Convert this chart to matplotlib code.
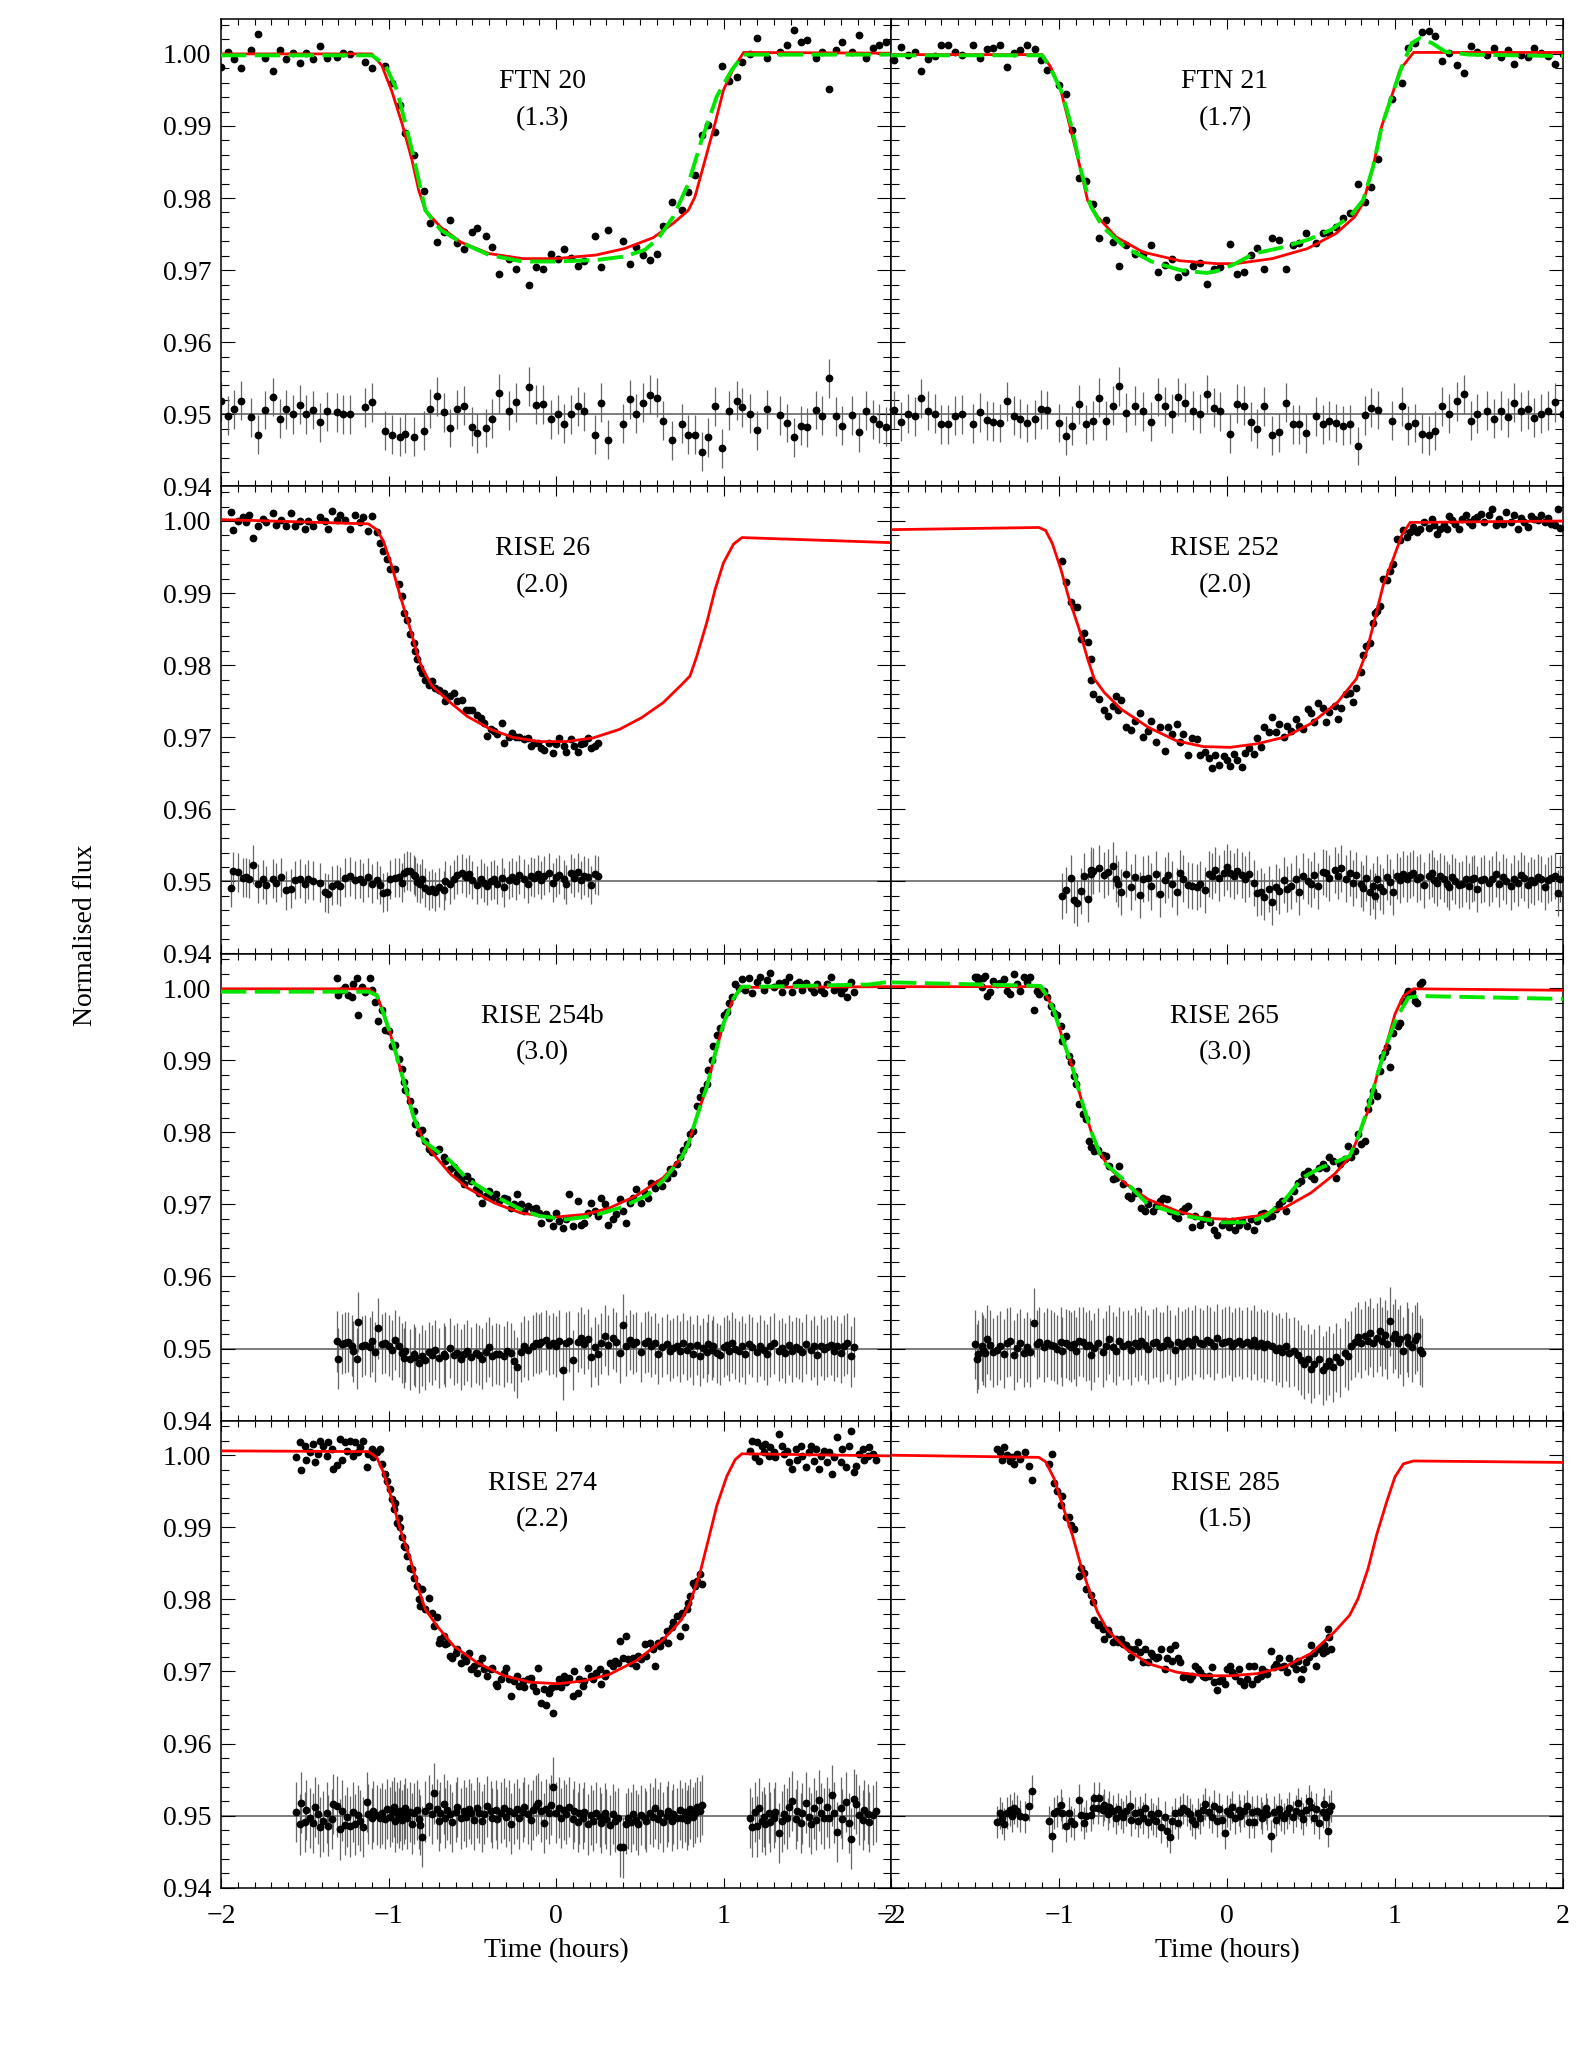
import numpy as np
import matplotlib.pyplot as plt
from matplotlib.ticker import MultipleLocator, NullFormatter

plt.rcParams['font.family'] = ['Liberation Serif', 'DejaVu Serif']

# Times in hours from mid-transit.  Fluxes and residuals are given in parts
# per thousand (ppt): flux = 1 + df/1000, residual = 0.95 + res/1000.

# ---------------- FTN 20 ----------------
ftn20_t = [-2.00, -1.96, -1.92, -1.88, -1.82, -1.78, -1.74, -1.69, -1.65, -1.61,
           -1.57, -1.53, -1.49, -1.45, -1.41, -1.37, -1.31, -1.27, -1.23, -1.14,
           -1.10, -1.02, -0.98, -0.93, -0.90, -0.85, -0.79, -0.75, -0.71, -0.67,
           -0.63, -0.59, -0.55, -0.50, -0.47, -0.42, -0.38, -0.34, -0.28, -0.24,
           -0.16, -0.12, -0.08, -0.03, 0.01, 0.05, 0.09, 0.13, 0.17, 0.23,
           0.27, 0.31, 0.40, 0.44, 0.48, 0.52, 0.56, 0.60, 0.64, 0.69,
           0.75, 0.79, 0.83, 0.87, 0.91, 0.95, 0.99, 1.03, 1.08, 1.11,
           1.16, 1.20, 1.26, 1.34, 1.38, 1.42, 1.46, 1.50, 1.55, 1.59,
           1.63, 1.67, 1.71, 1.77, 1.81, 1.85, 1.89, 1.93, 1.97, 2.01]
ftn20_df = [-1.8, 0.2, -0.7, -2.0, 0.5, 2.7, -0.6, -2.4, 0.6, -0.7,
            0.1, -1.3, 0.1, -0.7, 1.1, -0.5, -0.4, 0.1, 0.0, -1.1,
            -1.9, -1.7, -4.1, -7.1, -11.0, -14.0, -19.0, -23.4, -26.1, -24.7,
            -23.1, -26.2, -27.1, -24.7, -24.1, -25.2, -26.8, -30.6, -28.4, -29.8,
            -32.1, -29.6, -29.9, -27.8, -28.4, -27.1, -28.3, -29.4, -28.7, -25.3,
            -29.5, -24.4, -26.0, -29.1, -26.8, -27.9, -28.6, -27.7, -23.9, -20.6,
            -21.7, -19.1, -16.8, -11.3, -9.9, -10.8, -1.7, -3.8, -3.2, -1.1,
            0.0, 2.2, -0.6, 0.3, 1.3, 3.3, 1.7, 1.9, -0.6, 0.3,
            -4.9, 0.5, 1.6, 0.2, 2.6, -0.5, 0.8, 1.3, 1.7, -0.9]
ftn20_res = [1.8, -0.2, 0.7, 1.9, -0.4, -2.8, 0.6, 2.4, -0.6, 0.7,
             0.0, 1.3, 0.0, 0.6, -1.1, 0.4, 0.3, 0.0, 0.0, 1.0,
             1.7, -2.3, -2.8, -3.1, -2.7, -3.1, -2.3, 0.8, 2.5, 0.3,
             -1.9, 0.7, 1.2, -1.7, -2.6, -1.9, -0.6, 2.9, 0.5, 1.7,
             3.8, 1.3, 1.4, -0.7, 0.0, -1.3, 0.0, 1.1, 0.4, -2.8,
             1.6, -3.5, -1.3, 2.1, 0.1, 1.6, 2.7, 2.3, -0.9, -3.6,
             -1.3, -2.8, -2.8, -5.2, -3.2, 1.1, -4.7, 0.5, 1.9, 1.0,
             0.1, -2.2, 0.7, -0.1, -1.2, -3.2, -1.6, -1.8, 0.6, -0.2,
             5.0, -0.3, -1.6, -0.1, -2.5, 0.5, -0.7, -1.3, -1.7, 0.7]
ftn20_fit_t = [-2.0, -1.10, -1.04, -0.98, -0.92, -0.86, -0.82, -0.78, -0.69, -0.57, -0.40, -0.20, 0.0,
               0.24, 0.41, 0.58, 0.70, 0.79, 0.83, 0.89, 0.95, 1.00, 1.06, 1.12, 2.0]
ftn20_fit = [0.0, 0.0, -1.6, -5.2, -9.6, -14.7, -18.9, -21.7, -24.0, -26.1, -27.7, -28.4, -28.4,
             -27.9, -27.0, -25.5, -23.5, -21.7, -19.8, -14.7, -9.6, -5.0, -2.0, 0.2, 0.1]
ftn20_alt_t = [-2.0, -1.10, -1.02, -0.95, -0.90, -0.85, -0.78, -0.69, -0.57, -0.40, -0.20, 0.0,
               0.24, 0.41, 0.53, 0.61, 0.70, 0.79, 0.87, 0.96, 1.05, 1.12, 2.0]
ftn20_alt = [-0.2, -0.2, -1.5, -5.0, -9.6, -14.3, -21.7, -24.4, -26.1, -27.9, -28.8, -28.8,
             -28.6, -28.1, -27.2, -25.6, -22.6, -18.0, -11.9, -5.9, -2.2, -0.1, -0.1]

# ---------------- FTN 21 ----------------
ftn21_t = [-1.98, -1.94, -1.90, -1.86, -1.82, -1.78, -1.74, -1.70, -1.66, -1.62,
           -1.58, -1.51, -1.47, -1.43, -1.39, -1.35, -1.31, -1.27, -1.23, -1.19,
           -1.14, -1.11, -1.07, -1.00, -0.96, -0.92, -0.88, -0.84, -0.80, -0.76,
           -0.72, -0.68, -0.64, -0.60, -0.55, -0.50, -0.45, -0.41, -0.37, -0.33,
           -0.29, -0.25, -0.20, -0.16, -0.12, -0.08, -0.04, 0.02, 0.06, 0.10,
           0.14, 0.18, 0.22, 0.27, 0.31, 0.35, 0.39, 0.43, 0.47, 0.53,
           0.57, 0.61, 0.65, 0.69, 0.73, 0.78, 0.82, 0.86, 0.90, 0.98,
           1.04, 1.08, 1.12, 1.16, 1.20, 1.24, 1.28, 1.32, 1.37, 1.41,
           1.45, 1.49, 1.55, 1.59, 1.63, 1.67, 1.71, 1.75, 1.79, 1.83,
           1.87, 1.91, 1.95, 2.00]
ftn21_df = [-0.8, 0.9, -0.2, 0.2, -2.4, -0.7, -0.3, 1.3, 1.3, 0.2,
            -0.1, 1.2, -0.5, 0.7, 0.8, 1.2, -1.8, 0.1, 0.5, 1.2,
            0.7, -0.9, -2.3, -4.3, -5.6, -10.6, -17.2, -17.6, -20.8, -25.5,
            -23.1, -26.1, -29.4, -26.5, -27.8, -27.7, -26.5, -30.3, -29.3, -28.5,
            -30.9, -30.3, -29.4, -29.0, -31.9, -29.9, -29.5, -26.4, -30.6, -30.2,
            -27.9, -26.9, -29.8, -25.6, -25.8, -29.8, -26.5, -26.3, -24.8, -26.3,
            -24.8, -24.8, -24.0, -22.8, -22.1, -18.1, -20.5, -18.4, -14.6, -6.3,
            -4.0, 0.8, 1.5, 3.0, 3.2, 2.5, -1.0, 0.1, -1.6, -2.7,
            1.1, 0.2, -0.2, 0.8, -0.4, 0.6, -1.4, -0.1, -0.4, 0.8,
            0.1, -0.3, -1.4, 0.0]
ftn21_res = [0.6, -1.0, 0.1, -0.3, 2.2, 0.5, 0.1, -1.4, -1.4, -0.2,
             0.0, -1.3, 0.3, -0.8, -1.0, -1.2, 1.8, -0.2, -0.6, -1.2,
             -0.7, 0.7, 0.6, -1.2, -3.0, -1.6, 1.4, -1.4, -0.9, 2.3,
             -0.9, 1.2, 3.9, 0.2, 1.2, 0.4, -1.0, 2.4, 1.1, 0.1,
             2.4, 1.6, 0.5, 0.1, 2.8, 0.9, 0.4, -2.7, 1.5, 1.2,
             -1.0, -2.0, 1.1, -2.9, -2.5, 1.6, -1.4, -1.4, -2.6, -0.3,
             -1.4, -0.9, -1.2, -1.6, -1.4, -4.4, -0.1, 0.9, 0.6, -0.9,
             1.1, -1.6, -1.2, -2.7, -2.9, -2.3, 1.1, 0.1, 1.8, 2.8,
             -0.9, 0.1, 0.5, -0.6, 0.5, -0.4, 1.6, 0.4, 0.7, -0.5,
             0.1, 0.5, 1.7, 0.0]
ftn21_fit_t = [-2.0, -1.10, -1.05, -0.99, -0.94, -0.88, -0.83, -0.77, -0.66, -0.50, -0.28, -0.06,
               0.05, 0.27, 0.48, 0.65, 0.76, 0.81, 0.87, 0.92, 0.98, 1.03, 1.11, 2.0]
ftn21_fit = [-0.1, -0.1, -1.8, -5.0, -9.6, -15.2, -20.3, -22.6, -25.4, -27.5, -28.7, -29.1,
             -29.1, -28.4, -27.0, -24.9, -22.6, -20.7, -15.6, -10.1, -5.9, -2.2, 0.2, 0.2]
ftn21_alt_t = [-2.0, -1.10, -1.05, -0.98, -0.92, -0.87, -0.81, -0.74, -0.61, -0.45, -0.28, -0.12,
               -0.04, 0.05, 0.16, 0.32, 0.48, 0.62, 0.73, 0.81, 0.87, 0.92, 0.98, 1.04, 1.10,
               1.15, 1.22, 1.30, 1.44, 2.0]
ftn21_alt = [-0.2, -0.2, -2.0, -5.5, -10.6, -16.1, -21.2, -24.0, -26.8, -28.8, -30.0, -30.4,
             -30.0, -29.1, -27.7, -26.9, -25.8, -24.4, -22.6, -20.3, -15.6, -10.1, -5.9, -1.8, 1.5,
             2.2, 1.5, 0.3, -0.1, -0.3]

# ---------------- RISE 26 ----------------
rise26_t = [-1.94, -1.93, -1.90, -1.87, -1.85, -1.83, -1.81, -1.78, -1.75, -1.73,
            -1.69, -1.67, -1.64, -1.61, -1.58, -1.56, -1.53, -1.50, -1.48, -1.45,
            -1.41, -1.38, -1.36, -1.34, -1.31, -1.29, -1.26, -1.23, -1.20, -1.17,
            -1.15, -1.12, -1.10, -1.07, -1.05, -1.03, -1.01, -0.99, -0.96, -0.94,
            -0.92, -0.91, -0.89, -0.87, -0.85, -0.84, -0.83, -0.81, -0.80, -0.78,
            -0.76, -0.74, -0.72, -0.70, -0.67, -0.66, -0.63, -0.61, -0.59, -0.56,
            -0.54, -0.52, -0.50, -0.47, -0.45, -0.43, -0.41, -0.39, -0.37, -0.35,
            -0.32, -0.31, -0.28, -0.26, -0.24, -0.22, -0.19, -0.17, -0.15, -0.13,
            -0.11, -0.09, -0.07, -0.04, -0.02, 0.00, 0.02, 0.05, 0.06, 0.09,
            0.11, 0.13, 0.15, 0.17, 0.19, 0.21, 0.23, 0.25]
rise26_df = [1.2, -1.2, 0.0, 0.6, -0.2, 0.8, -2.3, -0.7, 0.3, -0.2,
             1.1, -0.5, 0.1, -0.7, 1.1, -0.7, 0.0, -1.1, 0.0, -0.7,
             0.5, 0.0, -1.1, 1.4, 0.2, 0.8, 0.1, -1.1, 0.9, -0.2,
             0.6, -1.4, 0.7, -1.5, -3.0, -4.2, -5.3, -6.7, -6.7, -8.8,
             -10.4, -12.7, -13.7, -15.7, -16.9, -18.1, -19.2, -20.4, -21.1, -22.0,
             -22.7, -22.2, -23.1, -23.5, -23.8, -25.0, -24.3, -23.8, -25.0, -24.8,
             -26.2, -26.2, -26.2, -26.9, -27.3, -28.0, -29.8, -28.8, -29.2, -29.6,
             -28.0, -30.8, -29.9, -29.4, -29.9, -29.9, -30.3, -30.1, -31.2, -30.8,
             -30.8, -31.5, -31.8, -30.8, -32.2, -31.0, -30.1, -31.2, -32.1, -30.3,
             -31.2, -32.1, -31.0, -30.8, -30.1, -31.5, -31.2, -30.8]
rise26_res = [-0.9, 1.4, 1.3, 0.5, 0.6, 0.4, 2.3, -0.3, 0.3, -0.5,
              0.4, -0.2, 0.6, -1.2, -1.0, 0.2, 0.4, -0.3, 0.3, 0.1,
              -0.2, -1.5, -1.7, -0.6, -0.4, -0.7, 0.5, 0.7, 0.2, 0.4,
              -0.1, 0.6, -0.3, 0.2, -0.5, -1.6, -1.4, 0.3, 0.5, 0.6,
              -0.2, 1.2, 1.5, 1.4, 0.9, 0.7, -0.1, -0.3, 0.4, -0.9,
              -1.3, -1.0, -1.4, -0.8, -1.2, 0.1, -0.4, 0.3, 0.9, 1.1,
              0.6, 1.0, 0.2, -0.5, 0.4, -0.2, -0.6, 0.1, 0.3, -0.4,
              0.5, -0.8, 0.2, 0.6, 0.1, 0.9, 0.4, -0.3, 0.7, 0.5,
              1.0, 0.2, 0.8, 1.2, -0.2, 0.6, 0.9, 0.3, -0.4, 1.1,
              0.5, 1.3, 0.2, 0.8, 0.6, -0.5, 1.0, 0.8]
rise26_fit_t = [-2.0, -1.12, -1.07, -1.03, -0.98, -0.93, -0.87, -0.82, -0.79, -0.74, -0.63, -0.53,
                -0.39, -0.26, -0.10, 0.06, 0.22, 0.38, 0.51, 0.64, 0.75, 0.80, 0.84, 0.90, 0.95,
                1.00, 1.06, 1.11, 2.0]
rise26_fit = [0.2, -0.4, -1.2, -2.8, -6.3, -10.4, -15.0, -19.2, -20.8, -22.9, -25.2, -27.1,
              -28.9, -30.0, -30.6, -30.6, -30.1, -28.9, -27.3, -25.2, -22.7, -21.5, -18.8, -14.1, -9.5,
              -5.8, -3.2, -2.3, -3.0]

# ---------------- RISE 252 ----------------
rise252_t = [-0.98, -0.96, -0.93, -0.91, -0.89, -0.87, -0.85, -0.83, -0.81, -0.81,
             -0.80, -0.76, -0.73, -0.71, -0.68, -0.66, -0.65, -0.63, -0.60, -0.57,
             -0.55, -0.52, -0.50, -0.47, -0.45, -0.42, -0.40, -0.37, -0.35, -0.33,
             -0.30, -0.28, -0.26, -0.23, -0.21, -0.18, -0.16, -0.13, -0.11, -0.09,
             -0.07, -0.05, -0.02, 0.00, 0.02, 0.04, 0.06, 0.09, 0.11, 0.13,
             0.16, 0.18, 0.20, 0.22, 0.25, 0.27, 0.29, 0.31, 0.34, 0.36,
             0.38, 0.41, 0.43, 0.45, 0.48, 0.50, 0.52, 0.54, 0.57, 0.59,
             0.61, 0.64, 0.66, 0.68, 0.71, 0.73, 0.75, 0.77, 0.80, 0.81,
             0.83, 0.85, 0.87, 0.88, 0.89, 0.91, 0.93, 0.95, 0.97, 0.99,
             1.01, 1.03, 1.05, 1.07, 1.09, 1.11, 1.13, 1.15, 1.17, 1.20,
             1.22, 1.23, 1.25, 1.27, 1.29, 1.31, 1.32, 1.34, 1.36, 1.38,
             1.40, 1.42, 1.44, 1.46, 1.47, 1.49, 1.51, 1.53, 1.56, 1.58,
             1.60, 1.62, 1.64, 1.66, 1.69, 1.71, 1.73, 1.75, 1.77, 1.79,
             1.81, 1.83, 1.85, 1.87, 1.89, 1.91, 1.93, 1.95, 1.97, 1.98]
rise252_df = [-5.6, -8.5, -11.2, -12.0, -12.0, -16.4, -15.5, -16.8, -19.1, -22.1,
              -24.0, -24.7, -26.2, -27.1, -25.7, -24.3, -26.2, -24.9, -28.6, -29.0,
              -27.7, -26.7, -29.9, -29.1, -27.7, -30.7, -28.6, -31.9, -28.6, -29.6,
              -28.1, -30.7, -29.6, -32.4, -30.1, -30.3, -32.4, -32.0, -32.9, -34.2,
              -32.4, -33.9, -32.6, -33.1, -34.0, -32.3, -33.1, -34.1, -32.2, -31.5,
              -32.3, -30.1, -31.3, -28.6, -29.3, -27.2, -29.3, -28.1, -30.0, -28.4,
              -29.1, -27.5, -28.4, -28.8, -26.1, -26.6, -27.9, -25.2, -26.0, -27.9,
              -26.5, -25.6, -27.5, -25.9, -24.0, -23.8, -25.1, -23.1, -20.9, -18.6,
              -17.4, -16.9, -14.1, -12.7, -12.5, -11.8, -8.0, -8.2, -6.9, -5.9,
              -2.5, -2.7, -1.3, -2.2, -1.5, -0.8, -1.5, -1.1, -0.1, -1.0,
              0.3, -0.6, -1.8, -1.1, -0.6, -1.1, 0.7, 0.1, -0.4, -1.1,
              0.3, 0.8, -0.1, -0.6, 0.3, 0.6, 1.0, -0.1, 0.8, 1.7,
              -0.6, 0.3, -0.4, 1.2, -0.1, 0.8, -1.1, 0.4, -0.1, -0.8,
              0.7, 0.3, 0.1, 0.8, -0.1, 0.4, -0.4, -0.6, 1.7, -1.0]
rise252_res = [-2.0, -1.2, 0.5, -2.6, -3.0, -1.3, 0.8, -2.4, 1.0, 1.6,
               1.5, 1.8, 0.9, 1.3, 2.2, 0.4, -0.3, -1.5, 1.0, -0.8,
               0.6, -1.9, 0.3, 0.5, -0.7, 1.0, -1.8, 0.2, 0.9, -0.4,
               -1.4, 1.2, 0.4, -0.5, -0.6, -0.8, -0.3, -1.2, 1.0, 0.8,
               1.6, 0.5, 1.2, 2.0, 1.1, 0.7, 1.5, 0.9, 0.3, 1.0,
               -0.2, -1.6, -1.4, -2.1, -1.0, -2.9, -0.8, -1.3, 0.2, -1.1,
               -0.6, 0.4, -1.4, 0.8, 0.1, -0.3, 0.9, -0.6, 1.3, 1.1,
               0.5, 1.6, 0.7, 1.8, 0.4, 1.2, -0.2, 0.9, -0.4, -0.9,
               0.5, -1.5, -0.6, -2.0, 0.3, -0.8, -1.3, 0.6, -0.1, -1.5,
               0.8, 0.2, 1.0, 0.4, 0.9, 1.2, 0.3, 0.6, -0.5, 0.7,
               1.1, 0.2, -0.2, 0.8, 0.4, -0.4, -0.8, 0.6, 0.1, -0.5,
               -0.3, 0.4, -0.6, 0.3, 0.5, -1.0, 0.2, 0.4, -0.2, 0.3,
               1.0, -0.4, 0.6, 0.1, -0.7, 0.4, -0.2, 0.9, 0.5, -0.5,
               0.2, -0.1, 0.6, 0.3, -0.8, 0.2, 0.5, 0.8, -1.6, 0.4]
rise252_fit_t = [-2.0, -1.12, -1.08, -1.04, -0.99, -0.94, -0.88, -0.83, -0.79, -0.73, -0.63, -0.47,
                 -0.30, -0.14, 0.02, 0.18, 0.34, 0.50, 0.66, 0.77, 0.83, 0.88, 0.93, 0.99, 1.04,
                 1.09, 2.0]
rise252_fit = [-1.2, -0.9, -1.3, -3.1, -6.6, -10.8, -15.0, -19.1, -21.9, -23.8, -26.1, -28.6,
               -30.5, -31.3, -31.4, -30.9, -30.0, -28.1, -25.1, -21.9, -18.2, -13.6, -8.9, -5.2, -2.0,
               -0.2, 0.0]

# ---------------- RISE 254b ----------------
rise254_t = [-1.31, -1.30, -1.28, -1.26, -1.24, -1.22, -1.21, -1.19, -1.18, -1.16,
             -1.14, -1.11, -1.10, -1.08, -1.06, -1.04, -1.02, -1.00, -0.98, -0.96,
             -0.94, -0.92, -0.91, -0.90, -0.87, -0.85, -0.84, -0.82, -0.80, -0.78,
             -0.76, -0.74, -0.72, -0.70, -0.67, -0.66, -0.63, -0.61, -0.59, -0.57,
             -0.55, -0.53, -0.51, -0.48, -0.46, -0.44, -0.42, -0.40, -0.38, -0.36,
             -0.34, -0.31, -0.29, -0.27, -0.25, -0.23, -0.21, -0.19, -0.17, -0.14,
             -0.12, -0.10, -0.09, -0.06, -0.04, -0.02, 0.00, 0.02, 0.04, 0.06,
             0.08, 0.10, 0.13, 0.15, 0.17, 0.19, 0.21, 0.23, 0.25, 0.27,
             0.29, 0.31, 0.34, 0.36, 0.38, 0.40, 0.42, 0.44, 0.46, 0.48,
             0.51, 0.53, 0.55, 0.57, 0.59, 0.61, 0.63, 0.66, 0.68, 0.70,
             0.72, 0.74, 0.76, 0.78, 0.80, 0.82, 0.84, 0.86, 0.88, 0.90,
             0.91, 0.93, 0.94, 0.96, 0.98, 1.00, 1.02, 1.03, 1.05, 1.07,
             1.09, 1.11, 1.13, 1.15, 1.17, 1.20, 1.22, 1.24, 1.26, 1.28,
             1.30, 1.33, 1.35, 1.37, 1.39, 1.41, 1.43, 1.45, 1.47, 1.49,
             1.52, 1.54, 1.56, 1.58, 1.60, 1.62, 1.64, 1.66, 1.68, 1.70,
             1.72, 1.74, 1.76, 1.78]
rise254_df = [1.4, -0.9, -0.2, 0.2, -0.9, -1.2, 0.5, 1.4, -3.7, 0.2,
              -0.5, 1.4, -0.2, -1.9, -4.5, -3.0, -5.8, -6.0, -8.1, -7.9,
              -9.8, -11.2, -13.0, -14.2, -15.6, -17.0, -18.8, -20.1, -19.7, -21.2,
              -22.3, -22.8, -22.6, -22.3, -23.5, -24.0, -25.1, -24.8, -25.8, -26.5,
              -27.2, -26.0, -26.7, -27.9, -28.4, -29.8, -28.8, -28.1, -29.1, -28.6,
              -29.5, -29.1, -29.3, -30.5, -29.9, -28.6, -30.0, -30.9, -30.2, -30.7,
              -30.5, -31.2, -32.6, -31.4, -31.9, -33.0, -31.2, -32.3, -33.3, -32.1,
              -28.6, -33.0, -29.5, -32.8, -32.6, -31.2, -29.8, -30.9, -31.6, -29.1,
              -30.0, -32.8, -32.1, -31.4, -29.3, -30.9, -32.6, -29.8, -29.1, -27.9,
              -29.8, -28.4, -29.1, -27.1, -27.7, -27.0, -27.4, -26.3, -25.1, -25.6,
              -24.4, -23.5, -22.5, -21.6, -20.2, -19.8, -16.3, -15.1, -14.2, -13.3,
              -11.4, -10.0, -8.1, -6.5, -5.6, -3.7, -3.3, -2.1, -1.2, 0.5,
              0.0, 1.2, -0.2, 1.4, -0.7, 0.8, 1.6, -0.2, 1.1, 2.1,
              0.2, 0.7, -0.5, 0.9, 1.6, -0.5, 0.5, 0.9, -0.2, 0.7,
              0.0, -0.5, 0.5, -0.2, -0.7, 0.5, 1.5, -0.2, 0.1, -0.7,
              0.0, -1.2, 0.8, -0.5]
rise254_res = [1.0, -1.4, 0.6, 0.8, 0.9, 0.4, -0.4, -1.4, 3.7, 0.3,
               0.5, 0.2, 1.0, -0.5, 2.8, 0.6, 0.8, 0.4, -0.2, 1.2,
               0.3, -0.6, -1.3, -0.4, -1.5, -0.8, -1.2, -2.0, -1.0, -1.6,
               -0.5, -0.9, -0.2, -1.3, -0.7, -1.1, 0.1, -0.9, -0.6, -1.5,
               -0.8, -0.3, -1.2, -0.6, -0.9, -1.4, -0.5, 0.2, -1.0, -0.7,
               -0.8, -1.1, -0.4, -0.6, -1.7, -2.6, -0.5, 0.3, -0.2, 0.4,
               0.8, 0.6, 0.9, 1.2, 0.5, 0.7, 0.3, 1.1, -3.0, 0.8,
               1.0, -1.6, 0.9, 1.5, 0.6, 1.3, -1.2, 0.2, -0.8, 0.7,
               1.8, 0.5, 1.4, 0.9, -0.6, 3.3, 0.4, 1.2, 0.6, 0.9,
               -0.5, 0.8, 1.0, 0.3, 0.7, -0.7, 0.2, 0.6, -0.3, 0.1,
               0.4, -0.4, 0.7, -0.2, 0.3, -0.8, 0.5, -1.0, 0.1, -0.5,
               0.6, -0.2, 0.3, -0.6, -0.9, 0.2, 0.5, -0.3, 0.8, 0.0,
               -0.4, 0.3, -0.7, 0.6, 0.2, -0.5, 0.4, -0.2, -0.8, 0.3,
               0.7, -0.3, 0.1, -0.6, 0.5, -0.4, 0.2, 0.0, -0.5, 0.6,
               -0.2, 0.3, -0.9, 0.4, -0.1, 0.2, 0.5, -0.3, 0.3, -0.6,
               0.4, 0.7, -1.1, 0.2]
rise254_fit_t = [-2.0, -1.12, -1.07, -1.03, -0.99, -0.95, -0.90, -0.85, -0.79, -0.74, -0.63, -0.53,
                 -0.37, -0.21, -0.02, 0.17, 0.32, 0.48, 0.64, 0.75, 0.79, 0.84, 0.90, 0.95, 1.00,
                 1.06, 1.11, 2.0]
rise254_fit = [-0.1, -0.1, -0.9, -3.5, -6.3, -9.5, -13.7, -17.9, -21.2, -22.8, -25.8, -27.7,
               -29.8, -31.2, -31.8, -31.4, -30.5, -28.8, -26.3, -23.5, -21.6, -17.9, -13.7, -9.1, -4.9,
               -1.4, 0.1, 0.2]
rise254_alt_t = [-2.0, -1.12, -1.07, -1.03, -0.99, -0.95, -0.90, -0.85, -0.79, -0.74, -0.63, -0.53,
                 -0.37, -0.21, -0.10, 0.06, 0.22, 0.38, 0.54, 0.64, 0.75, 0.79, 0.84, 0.90, 0.95,
                 1.00, 1.06, 1.11, 1.23, 1.87, 2.0]
rise254_alt = [-0.5, -0.5, -1.0, -3.5, -6.3, -9.5, -13.7, -17.9, -21.2, -22.1, -24.0, -26.5,
               -28.8, -30.7, -31.6, -32.1, -31.6, -30.5, -28.8, -26.7, -23.5, -21.6, -17.9, -13.7, -9.1,
               -4.9, -1.4, 0.2, 0.2, 0.5, 0.9]

# ---------------- RISE 265 ----------------
rise265_t = [-1.50, -1.49, -1.48, -1.46, -1.45, -1.44, -1.43, -1.41, -1.39, -1.37,
             -1.35, -1.33, -1.31, -1.29, -1.27, -1.25, -1.23, -1.21, -1.19, -1.17,
             -1.15, -1.13, -1.12, -1.09, -1.07, -1.05, -1.03, -1.01, -0.99, -0.98,
             -0.96, -0.94, -0.93, -0.91, -0.90, -0.88, -0.86, -0.84, -0.82, -0.81,
             -0.79, -0.77, -0.74, -0.72, -0.70, -0.68, -0.66, -0.64, -0.62, -0.59,
             -0.57, -0.55, -0.53, -0.51, -0.49, -0.47, -0.44, -0.42, -0.40, -0.38,
             -0.36, -0.34, -0.31, -0.29, -0.27, -0.25, -0.23, -0.21, -0.19, -0.16,
             -0.14, -0.12, -0.10, -0.08, -0.06, -0.03, -0.01, 0.01, 0.03, 0.05,
             0.07, 0.09, 0.12, 0.14, 0.16, 0.18, 0.20, 0.22, 0.24, 0.27,
             0.29, 0.31, 0.33, 0.35, 0.37, 0.40, 0.42, 0.44, 0.46, 0.48,
             0.50, 0.52, 0.55, 0.57, 0.59, 0.61, 0.63, 0.65, 0.67, 0.70,
             0.72, 0.74, 0.76, 0.78, 0.80, 0.82, 0.84, 0.85, 0.87, 0.89,
             0.91, 0.92, 0.94, 0.95, 0.97, 0.99, 1.00, 1.02, 1.03, 1.05,
             1.07, 1.08, 1.10, 1.12, 1.13, 1.15, 1.16]
rise265_df = [1.6, 1.5, 1.1, 0.2, 1.4, 1.7, -1.1, -0.6, 1.0, 0.6,
              0.7, 1.3, -0.4, -0.8, 1.9, 0.6, -0.4, 1.5, 0.8, 1.5,
              -3.1, -0.4, -0.8, -0.4, -1.3, -2.5, -3.4, -3.7, -5.2, -7.3,
              -6.6, -9.4, -10.3, -12.2, -13.3, -16.1, -17.5, -18.2, -21.2, -22.1,
              -22.6, -22.4, -23.1, -23.3, -24.7, -26.5, -26.3, -24.7, -27.2, -28.8,
              -29.1, -28.4, -28.2, -30.5, -30.9, -30.0, -30.9, -30.2, -29.5, -29.1,
              -29.3, -30.9, -31.6, -31.9, -30.9, -30.5, -30.2, -33.1, -31.6, -32.8,
              -32.1, -31.4, -32.5, -33.5, -34.2, -32.8, -32.3, -33.2, -32.3, -33.5,
              -32.8, -32.3, -33.0, -32.1, -33.5, -32.3, -31.4, -31.2, -31.9, -31.6,
              -30.7, -30.0, -29.5, -30.9, -29.1, -28.2, -27.0, -26.8, -25.8, -25.4,
              -26.1, -26.5, -24.9, -24.4, -24.9, -23.5, -24.0, -26.3, -24.4, -23.7,
              -21.9, -23.5, -22.6, -20.3, -21.6, -21.2, -16.8, -15.6, -14.3, -14.9,
              -11.5, -9.6, -8.9, -8.2, -11.0, -6.2, -5.0, -5.2, -4.8, -1.8,
              -0.8, -0.4, -0.6, -1.8, -2.0, 0.6, 0.8]
rise265_res = [0.6, -1.4, -0.8, 0.3, -0.2, -0.6, 1.3, 0.5, -0.5, -0.2,
               0.4, -0.7, 0.8, 1.0, -0.9, 0.1, 0.7, -0.6, 0.2, -0.5,
               3.6, 0.6, 0.9, 0.2, 0.8, 0.5, 0.3, -0.1, 0.9, -0.4,
               0.7, 0.5, 0.2, 0.6, -0.4, 1.0, 0.9, 0.3, 0.5, -0.9,
               0.1, 0.8, -0.5, 0.4, 1.3, 0.2, -0.3, 1.0, 0.4, 0.6,
               -0.2, 0.8, 0.3, 1.1, 0.5, -0.1, 0.7, 0.9, 0.2, 0.3,
               1.2, 0.6, -0.2, 0.9, 0.4, 0.7, 1.0, 0.5, 1.3, 0.8,
               0.6, 1.2, 0.9, 0.4, 1.4, 0.7, 0.9, 1.1, 0.3, 0.8,
               1.0, 0.6, 0.9, 0.5, 1.2, 0.4, 0.7, 0.2, 0.6, 0.3,
               -0.2, 0.1, -0.5, 0.3, -0.6, -0.4, -0.9, -1.6, -2.2, -1.4,
               -2.8, -2.1, -1.5, -3.0, -2.4, -1.7, -2.6, -1.2, -1.9, -0.6,
               -1.0, 0.4, 0.9, 1.6, 0.7, 1.8, 1.1, 2.2, 0.8, 1.5,
               2.4, 1.0, 1.9, 0.6, 3.8, 1.4, 2.0, 0.7, 1.3, -0.4,
               1.6, 0.8, 0.2, 1.2, 1.7, -0.2, -0.6]
rise265_fit_t = [-2.0, -1.12, -1.08, -1.03, -0.98, -0.92, -0.87, -0.81, -0.77, -0.71, -0.60, -0.47,
                 -0.30, -0.14, 0.02, 0.18, 0.34, 0.50, 0.64, 0.73, 0.78, 0.84, 0.89, 0.95, 1.00,
                 1.05, 1.11, 2.0]
rise265_fit = [0.2, 0.2, -0.8, -3.1, -6.9, -11.0, -15.2, -19.8, -22.1, -24.7, -27.2, -29.3,
               -30.9, -31.9, -32.1, -31.6, -30.5, -28.4, -25.8, -23.5, -20.7, -17.0, -12.4, -7.8, -3.6,
               -1.1, -0.1, -0.3]
rise265_alt_t = [-2.0, -1.11, -1.08, -1.03, -0.98, -0.92, -0.87, -0.81, -0.74, -0.63, -0.47, -0.25,
                 -0.03, 0.13, 0.23, 0.34, 0.45, 0.56, 0.66, 0.73, 0.78, 0.84, 0.89, 0.95, 1.01,
                 1.08, 1.15, 2.0]
rise265_alt = [0.8, 0.3, -0.8, -3.1, -6.9, -11.0, -15.2, -19.8, -24.0, -26.3, -30.0, -31.6,
               -32.5, -32.5, -31.6, -29.5, -26.3, -24.9, -24.0, -23.3, -20.7, -16.6, -12.4, -7.8, -4.1,
               -1.3, -1.1, -1.5]

# ---------------- RISE 274 ----------------
rise274_t = [-1.55, -1.53, -1.52, -1.50, -1.49, -1.47, -1.45, -1.44, -1.42, -1.41,
             -1.39, -1.37, -1.36, -1.34, -1.33, -1.31, -1.29, -1.28, -1.26, -1.25,
             -1.23, -1.21, -1.20, -1.18, -1.17, -1.15, -1.13, -1.12, -1.10, -1.09,
             -1.07, -1.05,
             -1.04, -1.02, -1.01, -0.99, -0.98, -0.97, -0.96, -0.95, -0.94, -0.93,
             -0.92, -0.91, -0.90, -0.89, -0.87, -0.86, -0.85, -0.83, -0.82, -0.81,
             -0.80, -0.78, -0.76, -0.74, -0.73, -0.71, -0.70, -0.69, -0.67, -0.66,
             -0.65, -0.63, -0.62, -0.60, -0.59, -0.57, -0.55, -0.54, -0.52, -0.51,
             -0.49, -0.47, -0.46, -0.44, -0.43, -0.41, -0.39, -0.38, -0.36, -0.35,
             -0.33, -0.31, -0.30, -0.28, -0.27, -0.25, -0.23, -0.22, -0.20, -0.19,
             -0.17, -0.15, -0.14, -0.12, -0.11, -0.09, -0.07, -0.06, -0.04, -0.03,
             -0.02, 0.00, 0.02, 0.03, 0.05, 0.06, 0.08, 0.10, 0.11, 0.13,
             0.14, 0.16, 0.17, 0.19, 0.21, 0.22, 0.24, 0.26, 0.27, 0.29,
             0.30, 0.32, 0.34, 0.35, 0.37, 0.38, 0.40, 0.42, 0.43, 0.45,
             0.46, 0.48, 0.49, 0.51, 0.53, 0.54, 0.56, 0.58, 0.59, 0.61,
             0.62, 0.64, 0.66, 0.67, 0.69, 0.70, 0.72, 0.74, 0.75, 0.77,
             0.78, 0.79, 0.80, 0.82, 0.83, 0.84, 0.86, 0.87,
             1.16, 1.17, 1.19, 1.20, 1.21, 1.23, 1.24, 1.25, 1.27, 1.28,
             1.30, 1.31, 1.33, 1.35, 1.36, 1.38, 1.39, 1.41, 1.43, 1.44,
             1.46, 1.47, 1.49, 1.51, 1.52, 1.54, 1.55, 1.57, 1.58, 1.60,
             1.62, 1.63, 1.65, 1.66, 1.68, 1.70, 1.71, 1.73, 1.75, 1.76,
             1.78, 1.79, 1.81, 1.83, 1.84, 1.86, 1.87, 1.89, 1.91]
rise274_df = [-0.3, 1.8, -2.0, 1.3, -0.6, 0.5, 1.5, -1.0, 0.1, 2.0,
              1.3, -0.1, 1.8, 0.8, -1.9, -1.3, 2.2, -0.6, 1.8, 0.6,
              2.0, -0.1, 1.8, 0.4, 1.1, 2.0, -1.6, 0.1, 0.8, -0.3,
              0.4, 0.8,
              -1.2, -2.6, -3.6, -4.7, -6.1, -7.5, -6.6, -9.4, -8.7, -10.0,
              -11.4, -12.6, -12.8, -14.0, -15.6, -15.8, -17.0, -18.1, -20.0, -20.9,
              -18.6, -21.4, -19.8, -21.9, -23.7, -22.5, -26.0, -25.5, -25.1, -26.2,
              -26.0, -27.9, -28.1, -27.4, -26.9, -28.8, -27.9, -28.6, -27.4, -29.7,
              -29.3, -30.2, -28.8, -28.1, -29.7, -30.6, -29.7, -29.5, -31.8, -32.0,
              -31.1, -30.2, -29.5, -31.1, -33.4, -31.3, -30.6, -32.0, -31.3, -32.2,
              -31.1, -30.9, -32.0, -32.7, -29.5, -34.4, -32.5, -34.6, -33.0, -32.3,
              -35.7, -32.0, -31.1, -32.2, -30.6, -31.5, -30.9, -33.4, -30.0, -33.0,
              -31.1, -32.0, -31.3, -29.5, -30.6, -31.1, -30.2, -29.7, -31.8, -30.6,
              -30.2, -28.8, -29.3, -28.6, -28.8, -25.8, -28.1, -25.1, -28.3, -28.8,
              -28.1, -29.3, -27.9, -28.3, -26.2, -27.9, -26.0, -26.9, -29.3, -26.0,
              -26.5, -25.6, -24.4, -26.0, -23.9, -23.2, -22.3, -25.1, -21.9, -23.9,
              -21.4, -20.5, -19.6, -17.7, -18.2, -17.5, -16.5, -17.9,
              0.6, 2.0, -0.3, 1.8, -0.8, 1.3, 0.4, 1.5, -0.1, 1.1,
              0.4, -0.3, 2.9, 1.3, 0.1, 0.6, -1.0, -1.9, 0.8, -0.6,
              1.3, -0.1, -1.7, 0.4, 1.3, -0.8, 0.8, -1.9, -0.1, 0.6,
              -1.0, 0.4, -2.6, -0.3, 2.5, -1.0, 0.8, -1.7, 1.3, 3.4,
              -2.4, -1.5, 0.1, 0.8, -0.6, -0.1, 1.1, 0.1, -0.6]
rise274_res = [0.5, -1.2, 1.8, -0.9, 0.8, -0.3, -1.0, 1.2, 0.2, -1.6,
               -0.8, 0.4, -1.4, -0.5, 1.6, 1.3, -1.9, 0.7, -1.3, -0.2,
               -1.5, 0.5, -1.2, 0.1, -0.7, -1.6, 1.9, 0.2, -0.4, 0.6,
               0.1, -0.3,
               0.3, -0.5, 0.9, -0.2, 0.6, 1.2, -0.8, 0.4, -0.3, 0.7,
               -0.6, 0.2, 1.0, -0.4, 0.5, -1.1, 0.3, 0.8, -0.5, -1.3,
               -2.9, 0.6, 1.4, 0.2, 3.1, 0.9, -0.7, 0.4, 1.6, -0.3,
               0.8, 0.2, -0.9, 0.5, 1.2, -0.4, 0.7, -0.2, 0.9, 0.3,
               -0.6, 1.1, 0.4, -0.8, 0.2, 1.3, 0.6, -0.3, 0.8, -0.5,
               0.4, 1.0, -0.2, 0.7, -1.1, 0.3, 0.9, -0.4, 0.5, 1.2,
               0.2, -0.6, 0.8, 1.4, 1.7, 0.6, -1.0, 0.9, 0.3, 1.5,
               4.0, 0.4, 1.1, -0.3, 0.8, 0.2, 1.2, -0.5, 0.6, -0.9,
               0.3, -0.4, 0.5, -1.2, 0.1, -0.7, 0.4, -0.2, -1.0, 0.3,
               -0.5, -1.3, 0.2, -0.8, -0.3, -4.3, -4.4, -1.1, -0.4, -0.9,
               0.2, -0.6, -1.2, 0.1, -0.4, -0.8, 0.3, -0.2, 1.0, -0.5,
               0.4, -0.9, -0.1, 0.6, -0.7, 0.2, -0.4, 0.8, -0.3, 0.5,
               -0.6, 0.1, 0.9, -0.2, 0.4, 1.2, 0.6, 1.5,
               -0.3, -1.6, 0.5, -1.5, 1.0, -0.8, -0.2, -1.2, 0.4, -0.9,
               -0.3, 0.5, -2.4, -0.8, 0.2, -0.4, 1.2, 2.0, -0.5, 0.7,
               -1.0, 0.3, 1.8, -0.2, -1.1, 1.0, -0.6, 2.1, 0.3, -0.4,
               1.2, -0.3, 2.8, 0.4, -2.3, 1.1, -0.5, 1.9, -1.0, -3.2,
               2.3, 1.6, 0.1, -0.6, 0.8, 0.2, -0.9, 0.1, 0.6]
rise274_fit_t = [-2.0, -1.12, -1.07, -1.03, -0.98, -0.93, -0.87, -0.82, -0.78, -0.71, -0.61, -0.47,
                 -0.31, -0.15, 0.01, 0.17, 0.32, 0.48, 0.64, 0.75, 0.80, 0.86, 0.91, 0.96, 1.02,
                 1.07, 1.11, 2.0]
rise274_fit = [0.6, 0.5, -0.3, -2.4, -6.1, -10.3, -14.4, -18.6, -21.4, -23.7, -26.5, -28.8,
               -30.6, -31.5, -31.7, -31.3, -30.4, -28.5, -25.6, -22.8, -20.5, -16.3, -11.7, -7.0, -2.9,
               -0.6, 0.2, -0.1]

# ---------------- RISE 285 ----------------
rise285_t = [-1.37, -1.35, -1.34, -1.33, -1.31, -1.29, -1.28, -1.27, -1.25, -1.23,
             -1.20, -1.18, -1.16, -1.06, -1.04, -1.03, -1.01, -0.99, -0.98, -0.96,
             -0.94, -0.93, -0.91, -0.88, -0.87, -0.85, -0.84, -0.81, -0.80, -0.79,
             -0.77, -0.76, -0.74, -0.73, -0.71, -0.70, -0.68, -0.66, -0.65, -0.63,
             -0.62, -0.60, -0.58, -0.57, -0.55, -0.53, -0.52, -0.50, -0.49, -0.47,
             -0.45, -0.44, -0.42, -0.41, -0.39, -0.37, -0.36, -0.34, -0.33, -0.31,
             -0.29, -0.28, -0.26, -0.24, -0.22, -0.21, -0.19, -0.17, -0.16, -0.14,
             -0.13, -0.11, -0.09, -0.08, -0.06, -0.05, -0.03, -0.01, 0.00, 0.02,
             0.03, 0.05, 0.07, 0.08, 0.10, 0.12, 0.13, 0.15, 0.16, 0.18,
             0.20, 0.21, 0.23, 0.24, 0.26, 0.28, 0.29, 0.31, 0.32, 0.34,
             0.36, 0.37, 0.39, 0.41, 0.42, 0.44, 0.45, 0.47, 0.49, 0.50,
             0.52, 0.53, 0.55, 0.57, 0.58, 0.59, 0.60, 0.61, 0.62]
rise285_df = [0.8, 0.5, -0.6, 1.2, 0.0, -0.8, -0.2, -1.2, 0.1, -0.5,
              0.5, -1.5, -3.5, -1.2, 0.1, -3.9, -4.9, -6.9, -5.6, -8.6,
              -8.6, -9.7, -10.2, -16.7, -15.7, -16.4, -18.5, -19.4, -20.4, -22.9,
              -23.6, -23.4, -24.1, -25.5, -24.3, -24.8, -25.9, -25.5, -25.9, -25.5,
              -26.2, -26.4, -26.9, -28.0, -26.9, -25.9, -27.3, -28.7, -26.9, -28.7,
              -27.5, -27.8, -28.2, -28.0, -26.9, -29.6, -28.2, -26.9, -28.5, -26.4,
              -28.2, -28.7, -30.8, -30.6, -31.0, -30.6, -29.2, -29.6, -30.1, -30.6,
              -30.8, -30.6, -29.4, -31.5, -32.6, -31.3, -31.0, -31.7, -29.6, -29.2,
              -30.1, -30.6, -29.6, -31.3, -31.9, -31.0, -29.2, -31.7, -29.2, -31.0,
              -30.6, -29.6, -30.1, -30.3, -27.1, -29.4, -28.9, -28.2, -29.4, -29.2,
              -30.1, -28.2, -28.9, -29.6, -28.5, -31.1, -29.6, -28.7, -28.0, -26.4,
              -27.5, -29.2, -26.9, -27.5, -26.4, -27.1, -24.1, -25.2, -26.9]
rise285_res = [-0.9, 0.4, -0.3, -1.2, 0.4, 0.8, -0.1, 1.1, 0.6, -0.1,
               -0.2, 1.4, 3.4, -0.8, -2.8, 0.4, 0.6, 1.5, 0.4, -1.5,
               0.4, -0.8, -1.2, 2.2, 0.1, -1.0, -0.1, 0.1, 1.0, 2.5,
               1.0, 2.4, 0.8, 1.5, 0.2, 1.2, 0.6, -0.4, 0.9, 0.3,
               -0.2, 0.7, 1.3, -0.6, 0.4, -0.8, 0.5, -0.3, 1.0, -0.9,
               0.2, -0.5, -0.7, 0.4, -1.6, -0.2, -2.2, -3.0, -0.8, 0.3,
               -1.0, 0.5, 1.0, 0.7, 0.2, -0.6, -1.1, 0.3, -0.4, 0.8,
               1.6, 0.5, -0.2, 1.4, -0.8, 0.9, -0.6, -2.4, 0.6, 0.2,
               1.2, -0.4, 0.8, -0.1, 0.6, 1.3, -0.9, 0.5, -0.9, 0.7,
               0.4, -0.3, 1.0, 0.2, -2.8, 0.5, -0.6, 0.9, 0.1, -0.4,
               0.3, 1.1, -0.2, 0.6, 1.7, 0.4, -0.5, 0.8, 2.0, 1.2,
               -0.3, 0.9, -1.0, 0.5, 1.6, -0.2, -2.2, 0.7, 1.3]
rise285_fit_t = [-2.0, -1.12, -1.08, -1.03, -0.98, -0.92, -0.87, -0.81, -0.77, -0.71, -0.60, -0.47,
                 -0.30, -0.14, 0.02, 0.18, 0.34, 0.50, 0.64, 0.73, 0.78, 0.84, 0.89, 0.95, 1.00,
                 1.05, 1.11, 2.0]
rise285_fit = [0.0, -0.3, -0.9, -3.2, -6.9, -11.1, -15.3, -19.4, -21.8, -24.3, -26.9, -28.9,
               -30.1, -30.6, -30.6, -30.3, -29.4, -27.5, -24.5, -22.2, -19.9, -15.7, -11.1, -6.5, -3.0,
               -1.2, -0.8, -1.0]

# ---------------- labels ----------------
names = ["FTN 20", "FTN 21", "RISE 26", "RISE 252", "RISE 254b", "RISE 265", "RISE 274", "RISE 285"]
ratios = ["(1.3)", "(1.7)", "(2.0)", "(2.0)", "(3.0)", "(3.0)", "(2.2)", "(1.5)"]
resid_err = [2.7, 2.7, 2.7, 3.2, 4.2, 4.8, 4.2, 2.2]   # ppt

panels = [
    (ftn20_t, ftn20_df, ftn20_res, ftn20_fit_t, ftn20_fit, ftn20_alt_t, ftn20_alt),
    (ftn21_t, ftn21_df, ftn21_res, ftn21_fit_t, ftn21_fit, ftn21_alt_t, ftn21_alt),
    (rise26_t, rise26_df, rise26_res, rise26_fit_t, rise26_fit, None, None),
    (rise252_t, rise252_df, rise252_res, rise252_fit_t, rise252_fit, None, None),
    (rise254_t, rise254_df, rise254_res, rise254_fit_t, rise254_fit, rise254_alt_t, rise254_alt),
    (rise265_t, rise265_df, rise265_res, rise265_fit_t, rise265_fit, rise265_alt_t, rise265_alt),
    (rise274_t, rise274_df, rise274_res, rise274_fit_t, rise274_fit, None, None),
    (rise285_t, rise285_df, rise285_res, rise285_fit_t, rise285_fit, None, None),
]

W, H = 1578, 2052
fig = plt.figure(figsize=(W / 100, H / 100), dpi=100)

col_x = [221, 891]
col_w = [670, 672]
row_top = 19.3
row_h = 467.1
FS = 20

for i, (t, df, res, ft, fv, at, av) in enumerate(panels):
    row, col = divmod(i, 2)
    x0 = col_x[col] / W
    y0 = 1 - (row_top + row_h * (row + 1)) / H
    ax = fig.add_axes([x0, y0, col_w[col] / W, row_h / H])

    t = np.array(t)
    flux = 1 + np.array(df) / 1000
    resid = 0.95 + np.array(res) / 1000

    ax.axhline(0.95, color='0.35', lw=1.1, zorder=1)
    ax.errorbar(t, resid, yerr=resid_err[i] / 1000, fmt='none',
                ecolor='0.4', elinewidth=0.9, zorder=2)
    ax.plot(t, resid, 'o', color='black', ms=4.6, zorder=3)
    ax.plot(t, flux, 'o', color='black', ms=4.6, zorder=3)
    ax.plot(ft, 1 + np.array(fv) / 1000, color='#ff0000', lw=2.0, zorder=4)
    if at is not None:
        ax.plot(at, 1 + np.array(av) / 1000, color='#00e600', lw=2.8,
                linestyle=(0, (6.5, 2.2)), zorder=5)

    ax.set_xlim(-2, 2)
    ax.set_ylim(0.9400, 1.0048)
    ax.xaxis.set_major_locator(MultipleLocator(1))
    ax.xaxis.set_minor_locator(MultipleLocator(0.1))
    ax.yaxis.set_major_locator(MultipleLocator(0.01))
    ax.yaxis.set_minor_locator(MultipleLocator(0.002))
    ax.tick_params(axis='both', which='both', direction='in',
                   top=True, right=True, width=0.8, labelsize=FS)
    ax.tick_params(axis='x', which='major', length=7.5, pad=12)
    ax.tick_params(axis='x', which='minor', length=4)
    ax.tick_params(axis='y', which='major', length=10, pad=7)
    ax.tick_params(axis='y', which='minor', length=6)
    for s in ax.spines.values():
        s.set_linewidth(1.1)

    if col == 0:
        ax.yaxis.set_major_formatter(plt.FormatStrFormatter('%.2f'))
    else:
        ax.yaxis.set_major_formatter(NullFormatter())
    if row == 3:
        ax.set_xlabel("Time (hours)", fontsize=FS, labelpad=6)
    else:
        ax.xaxis.set_major_formatter(NullFormatter())

    tx = 0.48 if col == 0 else 0.497
    ax.text(tx, 0.866, names[i], transform=ax.transAxes, ha='center', va='center', fontsize=FS)
    ax.text(tx, 0.787, ratios[i], transform=ax.transAxes, ha='center', va='center', fontsize=FS)

fig.text(85 / W, 1 - 935 / H, "Normalised flux", rotation=90, ha='center', va='center', fontsize=FS)

fig.savefig("out.png", dpi=100)
